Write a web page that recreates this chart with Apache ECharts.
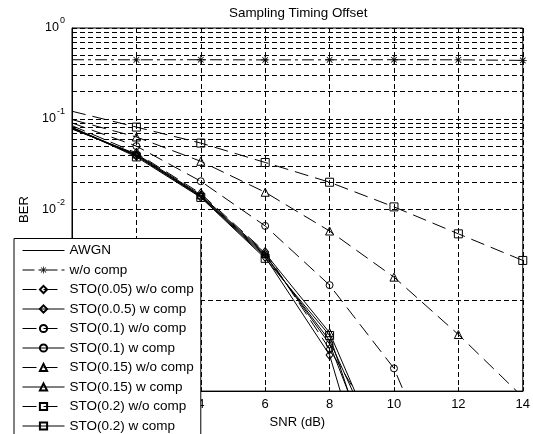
<!DOCTYPE html>
<html>
<head>
<meta charset="utf-8">
<script src="https://cdn.jsdelivr.net/npm/echarts@6/dist/echarts.min.js"></script>
<style>
html,body{margin:0;padding:0;background:#fff;}
#chart{width:533px;height:434px;}
</style>
</head>
<body>
<div id="chart"></div>
<script>
// ---- data ----
const snr = [0, 2, 4, 6, 8, 10, 12, 14];
const seriesNames = ['AWGN', 'w/o comp', 'STO(0.05) w/o comp', 'STO(0.0.5) w comp',
  'STO(0.1) w/o comp', 'STO(0.1) w comp', 'STO(0.15) w/o comp', 'STO(0.15) w comp',
  'STO(0.2) w/o comp', 'STO(0.2) w comp'];
const awgn       = [0.080, 0.040, 0.0140, 0.0031, 3.6e-4, 1.0e-5, null, null];
const woComp     = [0.447, 0.446, 0.447, 0.445, 0.446, 0.447, 0.446, 0.440];
const sto005wo   = [0.084, 0.042, 0.0150, 0.0034, 2.9e-4, 2.0e-5, null, null];
const sto005w    = [0.079, 0.039, 0.0138, 0.0030, 2.5e-4, 1.0e-6, null, null];
const sto01wo    = [0.090, 0.050, 0.0205, 0.0066, 0.00147, 1.78e-4, 3.8e-6, null];
const sto01w     = [0.078, 0.040, 0.0142, 0.0032, 3.3e-4, 5.0e-6, null, null];
const sto015wo   = [0.098, 0.063, 0.0340, 0.0155, 0.0058, 0.0018, 4.2e-4, 8.6e-5];
const sto015w    = [0.077, 0.041, 0.0145, 0.0033, 4.4e-4, 1.0e-5, null, null];
const sto02wo    = [0.121, 0.081, 0.0540, 0.0330, 0.0200, 0.0107, 0.0054, 0.00275];
const sto02w     = [0.081, 0.038, 0.0136, 0.0029, 4.1e-4, 3.0e-6, null, null];
const xTicks = [0, 2, 4, 6, 8, 10, 12, 14];

// ---- helpers ----
// the point on the left frame edge carries no visible marker in the reference
const pair = arr => snr.map((x, i) => i === 0 ? {value: [x, arr[i]], symbol: 'none'} : [x, arr[i]]);
const BLACK = '#000';
const DASH = [14, 7];
const DASHDOT = [12, 4, 3, 4];
const asterisk = 'path://M4.5,0h1v10h-1z M0,4.5h10v1h-10z M1.2,1.9l0.7,-0.7l7,7l-0.7,0.7z M8.1,1.2l0.7,0.7l-7,7l-0.7,-0.7z';

function mk(name, arr, symbol, size, dashed) {
  return {
    name: name, type: 'line', data: pair(arr),
    symbol: symbol, symbolSize: size, showSymbol: symbol !== 'none',
    connectNulls: false, clip: true, silent: true, z: 3,
    lineStyle: {color: BLACK, width: 1, type: dashed ? DASH : 'solid'},
    itemStyle: {color: 'rgba(0,0,0,0)', borderColor: BLACK, borderWidth: 1}
  };
}

// minor log grid lines (2..9 x 10^k)
const minorLines = [];
for (let k = -4; k <= -1; k++) {
  for (let m = 2; m <= 9; m++) minorLines.push({yAxis: m * Math.pow(10, k)});
}

const series = [
  mk(seriesNames[0], awgn, 'none', 0, false),
  {
    name: seriesNames[1], type: 'line', data: pair(woComp),
    symbol: asterisk, symbolSize: 8, clip: true, silent: true, z: 3,
    lineStyle: {color: BLACK, width: 1, type: DASHDOT},
    itemStyle: {color: BLACK, borderWidth: 0}
  },
  mk(seriesNames[2], sto005wo, 'diamond', [7, 9], true),
  mk(seriesNames[3], sto005w, 'diamond', [7, 9], false),
  mk(seriesNames[4], sto01wo, 'circle', 7, true),
  mk(seriesNames[5], sto01w, 'circle', 7, false),
  mk(seriesNames[6], sto015wo, 'triangle', 8, true),
  mk(seriesNames[7], sto015w, 'triangle', 8, false),
  mk(seriesNames[8], sto02wo, 'rect', 8, true),
  mk(seriesNames[9], sto02w, 'rect', 8, false),
  {
    type: 'line', data: [], silent: true, z: 1,
    markLine: {
      silent: true, symbol: ['none', 'none'], animation: false,
      label: {show: false},
      lineStyle: {color: BLACK, width: 1, type: [5, 3]},
      emphasis: {disabled: true},
      data: minorLines
    }
  }
];

const legendData = seriesNames.map((n, i) => i === 0
  ? {name: n, itemStyle: {color: 'rgba(0,0,0,0)', borderColor: 'rgba(0,0,0,0)', borderWidth: 0}}
  : {name: n});

const chart = echarts.init(document.getElementById('chart'), null, {renderer: 'canvas'});
const FONT = '"Liberation Sans", Arial, sans-serif';
chart.setOption({
  animation: false,
  backgroundColor: '#fff',
  textStyle: {fontFamily: FONT},
  title: {
    text: 'Sampling Timing Offset', left: 229, top: 7, padding: 0,
    textStyle: {fontSize: 13.4, fontWeight: 'normal', color: BLACK, fontFamily: FONT}
  },
  grid: {
    left: 72, right: 7, top: 28, bottom: 39, show: true,
    borderColor: BLACK, borderWidth: 1, backgroundColor: 'transparent'
  },
  xAxis: {
    type: 'value', min: 0, max: 14, interval: 2,
    name: 'SNR (dB)', nameLocation: 'middle', nameGap: 20,
    nameTextStyle: {fontSize: 13, color: BLACK, fontFamily: FONT},
    axisLine: {show: true, lineStyle: {color: BLACK}},
    axisTick: {show: true, inside: true, length: 4, lineStyle: {color: BLACK}},
    axisLabel: {fontSize: 13, color: BLACK, margin: 7, fontFamily: FONT,
      formatter: v => xTicks.indexOf(v) >= 0 ? String(v) : ''},
    splitLine: {show: true, lineStyle: {color: BLACK, width: 1, type: [5, 3]}}
  },
  yAxis: {
    type: 'log', logBase: 10, min: 1e-4, max: 1, interval: 1,
    name: 'BER', nameLocation: 'middle', nameGap: 36, nameRotate: 90,
    nameTextStyle: {fontSize: 13, color: BLACK, fontFamily: FONT},
    axisLine: {show: true, lineStyle: {color: BLACK}},
    axisTick: {show: true, inside: true, length: 4, lineStyle: {color: BLACK}},
    axisLabel: {
      margin: 7, color: BLACK,
      formatter: v => '{b|10}{e|' + Math.round(Math.log10(v)) + '}',
      rich: {
        b: {fontSize: 12.5, color: BLACK, fontFamily: FONT},
        e: {fontSize: 9, color: BLACK, fontFamily: FONT, padding: [0, 0, 14, 1]}
      }
    },
    splitLine: {show: true, lineStyle: {color: BLACK, width: 1, type: [5, 3]}}
  },
  legend: {
    orient: 'vertical', left: 14, top: 238.5, height: 320,
    data: legendData,
    itemWidth: 42, itemHeight: 9, itemGap: 5.5,
    padding: [5, 7, 7, 8],
    backgroundColor: '#fff', borderColor: BLACK, borderWidth: 1, borderRadius: 0,
    selectedMode: false,
    lineStyle: {width: 1},
    textStyle: {fontSize: 13.5, color: BLACK, fontFamily: FONT}
  },
  series: series
});
</script>
</body>
</html>
